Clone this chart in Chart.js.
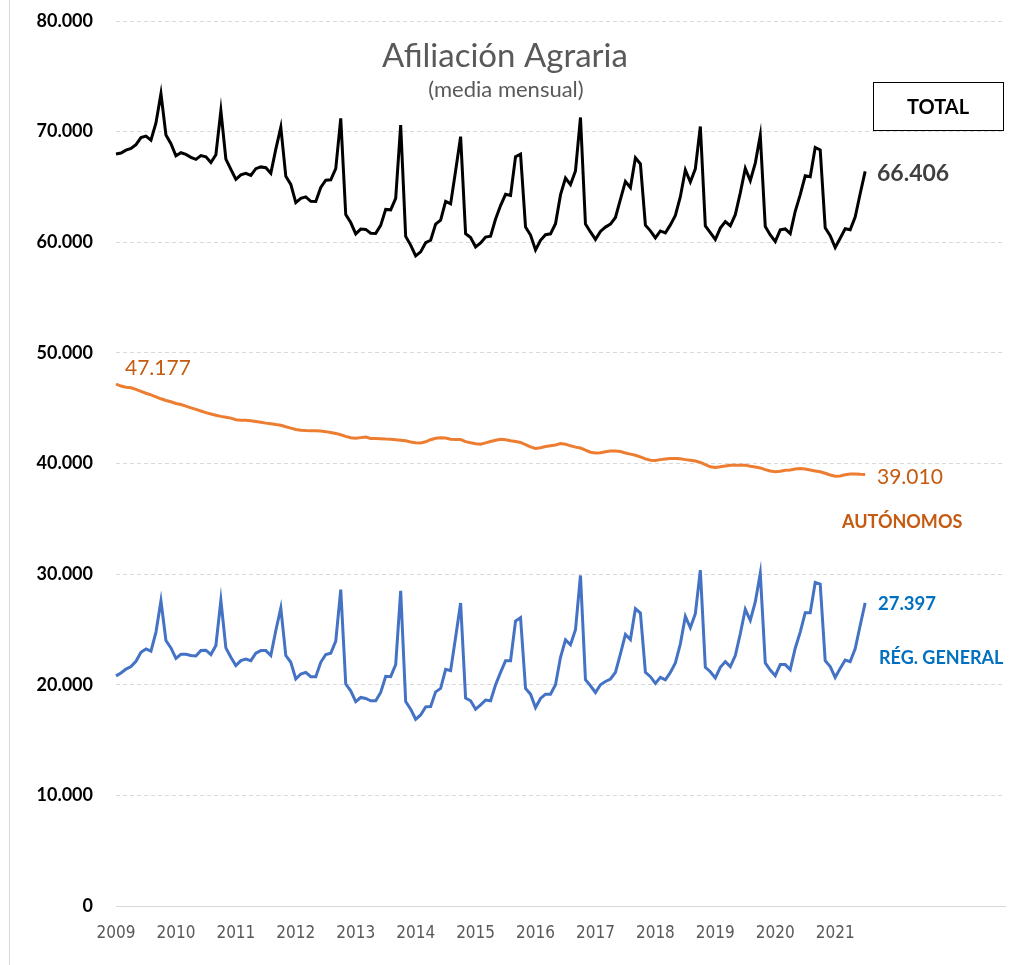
<!DOCTYPE html>
<html lang="es">
<head>
<meta charset="utf-8">
<title>Afiliación Agraria</title>
<script src="https://cdn.jsdelivr.net/npm/chart.js@4/dist/chart.umd.min.js"></script>
<style>
    html, body { margin: 0; padding: 0; background: #fff; }
    .chart-wrap { position: relative; width: 1025px; height: 965px; }
</style>
</head>
<body>
<div class="chart-wrap"><canvas id="chart-afiliacion" width="1025" height="965"></canvas></div>
<script>
/* ============================================
   Afiliación Agraria — media mensual, ene 2009 a jul 2021
   ============================================ */

const yearLabels = ['2009', '2010', '2011', '2012', '2013', '2014', '2015',
                    '2016', '2017', '2018', '2019', '2020', '2021'];
const monthSlots = 179;   // axis runs on past the data, as in the original

const total = [
    67977, 68060, 68320, 68480, 68820, 69460, 69590, 69230, 70780, 73430, 69700, 68910,
    67820, 68090, 67940, 67670, 67490, 67840, 67720, 67210, 67910, 71900, 67510, 66580,
    65690, 66100, 66230, 66050, 66650, 66810, 66740, 66240, 68420, 70400, 65960, 65230,
    63590, 63970, 64100, 63700, 63680, 64960, 65610, 65650, 66660, 71200, 62510, 61780,
    60760, 61190, 61160, 60820, 60800, 61530, 62970, 62930, 63970, 70590, 60530, 59740,
    58760, 59130, 59960, 60180, 61640, 61990, 63690, 63470, 66470, 69550, 60770, 60420,
    59580, 59930, 60470, 60540, 62100, 63320, 64330, 64230, 67740, 67960, 61370, 60650,
    59300, 60180, 60680, 60760, 61680, 64280, 65810, 65210, 66450, 71280, 61650, 60930,
    60260, 60980, 61370, 61640, 62240, 63870, 65500, 64940, 67630, 67080, 61540, 61030,
    60400, 61020, 60850, 61570, 62420, 64120, 66530, 65450, 66640, 70460, 61480, 60880,
    60250, 61280, 61870, 61490, 62490, 64460, 66670, 65570, 67160, 69660, 61420, 60660,
    60070, 61120, 61200, 60780, 62800, 64310, 66010, 65930, 68570, 68340, 61300, 60600,
    59520, 60360, 61220, 61130, 62280, 64380, 66406
];

const autonomos = [
    47177, 47000, 46900, 46840, 46700, 46520, 46350, 46200, 46020, 45850, 45700, 45580,
    45430, 45330, 45180, 45030, 44890, 44750, 44600, 44480, 44360, 44260, 44180, 44100,
    43960, 43920, 43900, 43870, 43800, 43720, 43650, 43600, 43520, 43460, 43320, 43200,
    43070, 43000, 42980, 42970, 42950, 42930, 42880, 42800, 42720, 42600, 42450, 42330,
    42280, 42340, 42400, 42270, 42250, 42230, 42210, 42200, 42150, 42110, 42050, 41950,
    41880, 41860, 41960, 42150, 42280, 42320, 42300, 42200, 42170, 42160, 41980, 41870,
    41790, 41750, 41860, 41990, 42100, 42200, 42150, 42050, 41980, 41900, 41700, 41500,
    41360, 41420, 41530, 41610, 41680, 41800, 41750, 41600, 41480, 41400, 41200, 41020,
    40960, 40980, 41070, 41120, 41120, 41080, 40950, 40850, 40750, 40600, 40420, 40300,
    40280, 40350, 40400, 40450, 40450, 40420, 40350, 40300, 40220, 40100, 39900, 39700,
    39640, 39700, 39780, 39850, 39850, 39850, 39850, 39750, 39680, 39600, 39450, 39330,
    39250, 39300, 39380, 39420, 39500, 39550, 39500, 39420, 39330, 39250, 39120, 38960,
    38850, 38880, 38980, 39040, 39040, 39020, 39010
];

const regGeneral = [
    20800, 21060, 21420, 21640, 22120, 22940, 23240, 23030, 24760, 27580, 24000, 23330,
    22390, 22760, 22760, 22640, 22600, 23090, 23120, 22730, 23550, 27640, 23330, 22480,
    21730, 22180, 22330, 22180, 22850, 23090, 23090, 22640, 24900, 26940, 22640, 22030,
    20520, 20970, 21120, 20730, 20730, 22030, 22730, 22850, 23940, 28600, 20060, 19450,
    18480, 18850, 18760, 18550, 18550, 19300, 20760, 20730, 21820, 28480, 18480, 17790,
    16880, 17270, 18000, 18030, 19360, 19670, 21390, 21270, 24300, 27390, 18790, 18550,
    17790, 18180, 18610, 18550, 20000, 21120, 22180, 22180, 25760, 26060, 19670, 19150,
    17940, 18760, 19150, 19150, 20000, 22480, 24060, 23610, 24970, 29880, 20450, 19910,
    19300, 20000, 20300, 20520, 21120, 22790, 24550, 24090, 26880, 26480, 21120, 20730,
    20120, 20670, 20450, 21120, 21970, 23700, 26180, 25150, 26420, 30360, 21580, 21180,
    20610, 21580, 22090, 21640, 22640, 24610, 26820, 25820, 27480, 30060, 21970, 21330,
    20820, 21820, 21820, 21360, 23300, 24760, 26510, 26510, 29240, 29090, 22180, 21640,
    20670, 21480, 22240, 22090, 23240, 25360, 27397
];

// one slot per month, the year name on each January
const categories = [];
for (let i = 0; i < monthSlots; i++) {
    categories.push(i % 12 === 0 ? (yearLabels[i / 12] || '') : '');
}

const fmt = v => String(v).replace(/\B(?=(\d{3})+(?!\d))/g, '.');

// texts drawn over the plot, as in the Excel original
const notes = [
    { text: 'Afiliación Agraria', x: 505, y: 67, font: '33px Lato', color: '#595959', align: 'center' },
    { text: '(media mensual)', x: 506, y: 97, font: '22px Lato', color: '#595959', align: 'center' },
    { text: 'TOTAL', x: 938, y: 114, font: 'bold 20px Lato', color: '#000000', align: 'center' },
    { text: fmt(66406), x: 877, y: 181, font: 'bold 23px Lato', color: '#404040', align: 'left' },
    { text: fmt(47177), x: 125, y: 375, font: '21px Lato', color: '#C55A11', align: 'left' },
    { text: fmt(39010), x: 877, y: 484, font: '21px Lato', color: '#C55A11', align: 'left' },
    { text: 'AUTÓNOMOS', x: 842, y: 528, font: 'bold 18px Lato', color: '#C55A11', align: 'left' },
    { text: fmt(27397), x: 878, y: 610, font: 'bold 18.5px Lato', color: '#0070C0', align: 'left' },
    { text: 'RÉG. GENERAL', x: 879, y: 664, font: 'bold 18px Lato', color: '#0070C0', align: 'left' }
];

const notesPlugin = {
    id: 'notes',
    afterDraw(chart) {
        const ctx = chart.ctx;
        ctx.save();
        // chart frame (only the left edge shows in the original)
        ctx.strokeStyle = '#d9d9d9';
        ctx.lineWidth = 1;
        ctx.beginPath();
        ctx.moveTo(9.5, 0);
        ctx.lineTo(9.5, 965);
        ctx.stroke();
        // TOTAL box
        ctx.strokeStyle = '#000000';
        ctx.strokeRect(873.5, 82.5, 130, 48);
        ctx.textBaseline = 'alphabetic';
        notes.forEach(n => {
            ctx.font = n.font;
            ctx.fillStyle = n.color;
            ctx.textAlign = n.align;
            ctx.fillText(n.text, n.x, n.y);
        });
        ctx.restore();
    }
};

const lineStyle = { borderWidth: 3, pointRadius: 0, tension: 0, fill: false };

new Chart(document.getElementById('chart-afiliacion'), {
    type: 'line',
    data: {
        labels: categories,
        datasets: [
            { label: 'TOTAL', data: total, borderColor: '#000000', ...lineStyle },
            { label: 'AUTÓNOMOS', data: autonomos, borderColor: '#ED7D31', ...lineStyle },
            { label: 'RÉG. GENERAL', data: regGeneral, borderColor: '#4472C4', ...lineStyle }
        ]
    },
    options: {
        responsive: false,
        animation: false,
        layout: { padding: { top: 21, right: 20, left: 0, bottom: 0 } },
        plugins: { legend: { display: false }, tooltip: { enabled: false } },
        scales: {
            x: {
                offset: false,
                grid: { display: false },
                border: { display: true, color: '#d9d9d9', width: 1 },
                ticks: {
                    autoSkip: false,
                    maxRotation: 0,
                    padding: 9,
                    color: '#595959',
                    font: { family: "'DejaVu Sans Condensed', Roboto, sans-serif", size: 17 }
                },
                afterFit(scale) { scale.height = 59; }
            },
            y: {
                min: 0,
                max: 80000,
                // invisible tick marks keep the labels away from the plot
                // without the tick padding pushing the plot top down
                grid: { color: '#d9d9d9', drawTicks: true, tickLength: 23, tickColor: 'rgba(0,0,0,0)', lineWidth: 1 },
                border: { display: false, dash: [4, 3] },
                ticks: {
                    stepSize: 10000,
                    padding: 0,
                    color: '#000000',
                    font: { family: 'Lato', size: 18, weight: 'bold' },
                    callback: v => fmt(v)
                },
                afterFit(scale) { scale.width = 116; }
            }
        }
    },
    plugins: [notesPlugin]
});
</script>
</body>
</html>
